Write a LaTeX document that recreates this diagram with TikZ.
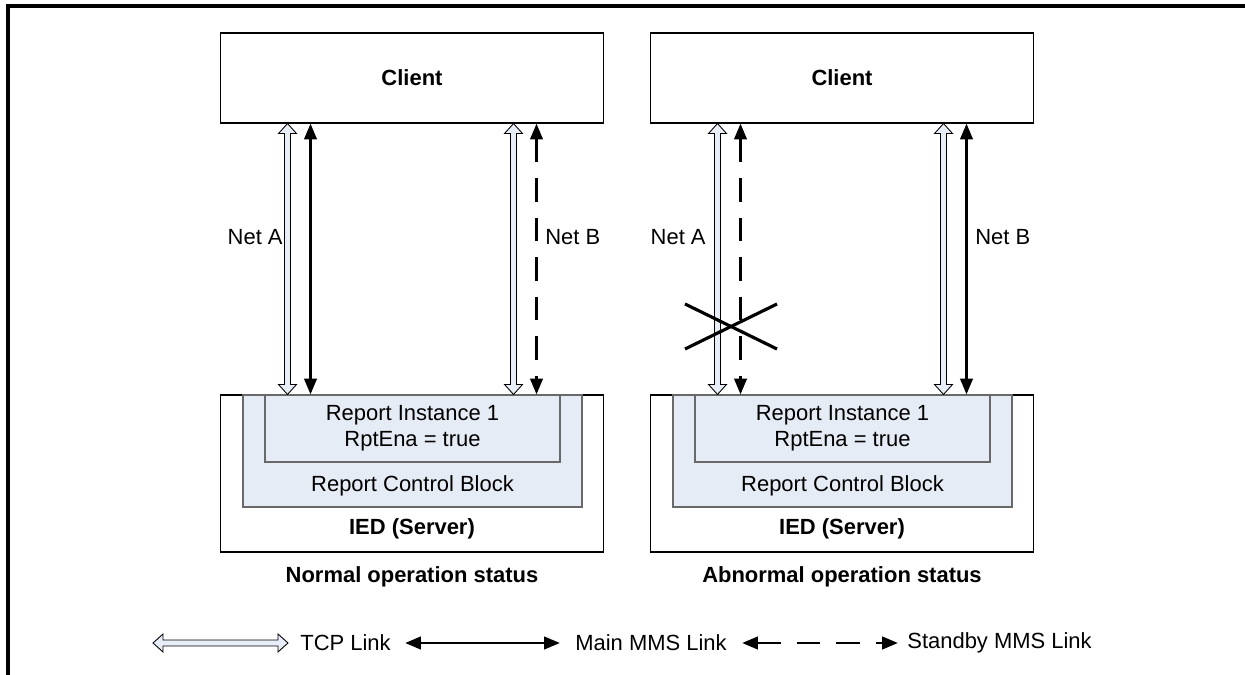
\documentclass[tikz,border=0pt]{standalone}
\usepackage{fontspec}
\setmainfont{Liberation Sans}
\usetikzlibrary{calc,positioning,arrows.meta}
\definecolor{tcpblue}{RGB}{232,238,248}
\definecolor{rcbblue}{RGB}{230,236,246}
\definecolor{edgegray}{RGB}{105,105,105}
\tikzset{
   box/.style={ rectangle, draw=black, line width=0.6pt, fill=white, inner sep=0pt},
   block/.style={ rectangle, draw=edgegray, line width=0.7pt, fill=rcbblue, inner sep=0pt, align=center},
   title/.style={ font=\fontsize{12.5}{15}\selectfont\bfseries, inner sep=0pt},
   plain/.style={ inner sep=0pt, align=center},
   main link/.style={ line width=1.7pt, {Triangle[length=9pt,width=7pt]}-{Triangle[length=9pt,width=7pt]}},
   standby link/.style={ main link, dash pattern=on 13.5pt off 9pt},
   tcp link/.style={ draw=black, line width=0.5pt, fill=tcpblue, to path={
      -- ($(\tikztostart)!0.2cm!(\tikztotarget)!0.18cm!90:(\tikztotarget)$)
      -- ($(\tikztostart)!0.2cm!(\tikztotarget)!0.06cm!90:(\tikztotarget)$)
      -- ($(\tikztotarget)!0.2cm!(\tikztostart)!0.06cm!270:(\tikztostart)$)
      -- ($(\tikztotarget)!0.2cm!(\tikztostart)!0.18cm!270:(\tikztostart)$)
      -- (\tikztotarget)
      -- ($(\tikztotarget)!0.2cm!(\tikztostart)!0.18cm!90:(\tikztostart)$)
      -- ($(\tikztotarget)!0.2cm!(\tikztostart)!0.06cm!90:(\tikztostart)$)
      -- ($(\tikztostart)!0.2cm!(\tikztotarget)!0.06cm!270:(\tikztotarget)$)
      -- ($(\tikztostart)!0.2cm!(\tikztotarget)!0.18cm!270:(\tikztotarget)$)
      -- cycle}},
   broken/.style={ line width=1.8pt},
   >=latex
}
\begin{document}
\begin{tikzpicture}[x=0.02cm, y=-0.02cm, font=\fontsize{12.5}{15}\selectfont]

  \useasboundingbox (0,0) rectangle (1245,675);
  \draw[line width=2pt] (8,675) -- (8,6) -- (1245,6);

  %%%%%%%%%%% normal operation

  \node[box, minimum width=7.68cm, minimum height=1.8cm] at (412,78)    (normal client)   {\bfseries Client};
  \node[box, minimum width=7.68cm, minimum height=3.14cm] at (412,473.5) (normal ied)    {};
  \node[block, minimum width=6.78cm, minimum height=2.24cm] at (412.5,451) (normal rcb)  {};
  \node[block, minimum width=5.9cm, minimum height=1.34cm] at (412.5,428.5) (normal instance) {Report Instance 1\\RptEna = true};
  \node[plain] at (412.5,486) (normal rcb text)   {Report Control Block};
  \node[title] at (412,529)   (normal ied text)   {IED (Server)};
  \node[title] at (412,577)   (normal caption)    {Normal operation status};

  \coordinate (normal tcp a top)     at ($(normal client.south west)+(68,0)$);
  \coordinate (normal tcp a bottom)  at ($(normal ied.north west)+(68,0)$);
  \coordinate (normal main top)      at ($(normal client.south west)+(91,0)$);
  \coordinate (normal main bottom)   at ($(normal ied.north west)+(91,0)$);
  \coordinate (normal tcp b top)     at ($(normal client.south west)+(294,0)$);
  \coordinate (normal tcp b bottom)  at ($(normal ied.north west)+(294,0)$);
  \coordinate (normal standby top)   at ($(normal client.south west)+(317,0)$);
  \coordinate (normal standby bottom) at ($(normal ied.north west)+(317,0)$);

  \node[plain, anchor=east] at (283,237) (normal net a) {Net A};
  \node[plain, anchor=west] at (545,237) (normal net b) {Net B};

  %%%%%%%%%%% abnormal operation

  \node[box, minimum width=7.68cm, minimum height=1.8cm] at (842,78)    (abnormal client)   {\bfseries Client};
  \node[box, minimum width=7.68cm, minimum height=3.14cm] at (842,473.5) (abnormal ied)    {};
  \node[block, minimum width=6.78cm, minimum height=2.24cm] at (842.5,451) (abnormal rcb)  {};
  \node[block, minimum width=5.9cm, minimum height=1.34cm] at (842.5,428.5) (abnormal instance) {Report Instance 1\\RptEna = true};
  \node[plain] at (842.5,486) (abnormal rcb text)   {Report Control Block};
  \node[title] at (842,529)   (abnormal ied text)   {IED (Server)};
  \node[title] at (842,577)   (abnormal caption)    {Abnormal operation status};

  \coordinate (abnormal tcp a top)      at ($(abnormal client.south west)+(68,0)$);
  \coordinate (abnormal tcp a bottom)   at ($(abnormal ied.north west)+(68,0)$);
  \coordinate (abnormal standby top)    at ($(abnormal client.south west)+(91,0)$);
  \coordinate (abnormal standby bottom) at ($(abnormal ied.north west)+(91,0)$);
  \coordinate (abnormal tcp b top)      at ($(abnormal client.south west)+(294,0)$);
  \coordinate (abnormal tcp b bottom)   at ($(abnormal ied.north west)+(294,0)$);
  \coordinate (abnormal main top)       at ($(abnormal client.south west)+(317,0)$);
  \coordinate (abnormal main bottom)    at ($(abnormal ied.north west)+(317,0)$);

  \node[plain, anchor=east] at (706,237) (abnormal net a) {Net A};
  \node[plain, anchor=west] at (975,237) (abnormal net b) {Net B};

  %%%%%%%%%%% legend

  \coordinate (tcp key start) at (153,643);
  \coordinate (tcp key end)   at (288,643);
  \node[plain, right=0.24cm of tcp key end] (tcp key) {TCP Link};
  \coordinate[right=0.28cm of tcp key] (main key start);
  \coordinate (main key end) at ($(main key start)+(155,0)$);
  \node[plain, right=0.3cm of main key end] (main key) {Main MMS Link};
  \coordinate[right=0.3cm of main key] (standby key start);
  \coordinate (standby key end) at ($(standby key start)+(156,0)$);
  \node[plain, right=0.18cm of standby key end] (standby key) {Standby MMS Link};

  %%%%%%%%%%%

  \draw[tcp link] (normal tcp a top) to (normal tcp a bottom);
  \draw[main link] (normal main top) -- (normal main bottom);
  \draw[tcp link] (normal tcp b top) to (normal tcp b bottom);
  \draw[standby link] (normal standby top) -- (normal standby bottom);

  \draw[tcp link] (abnormal tcp a top) to (abnormal tcp a bottom);
  \draw[standby link] (abnormal standby top) -- (abnormal standby bottom);
  \draw[tcp link] (abnormal tcp b top) to (abnormal tcp b bottom);
  \draw[main link] (abnormal main top) -- (abnormal main bottom);

  \draw[broken] (685,304) -- (777,349);
  \draw[broken] (685,349) -- (777,304);

  \draw[tcp link] (tcp key start) to (tcp key end);
  \draw[main link] (main key start) -- (main key end);
  \draw[standby link] (standby key start) -- (standby key end);

\end{tikzpicture}
\end{document}
